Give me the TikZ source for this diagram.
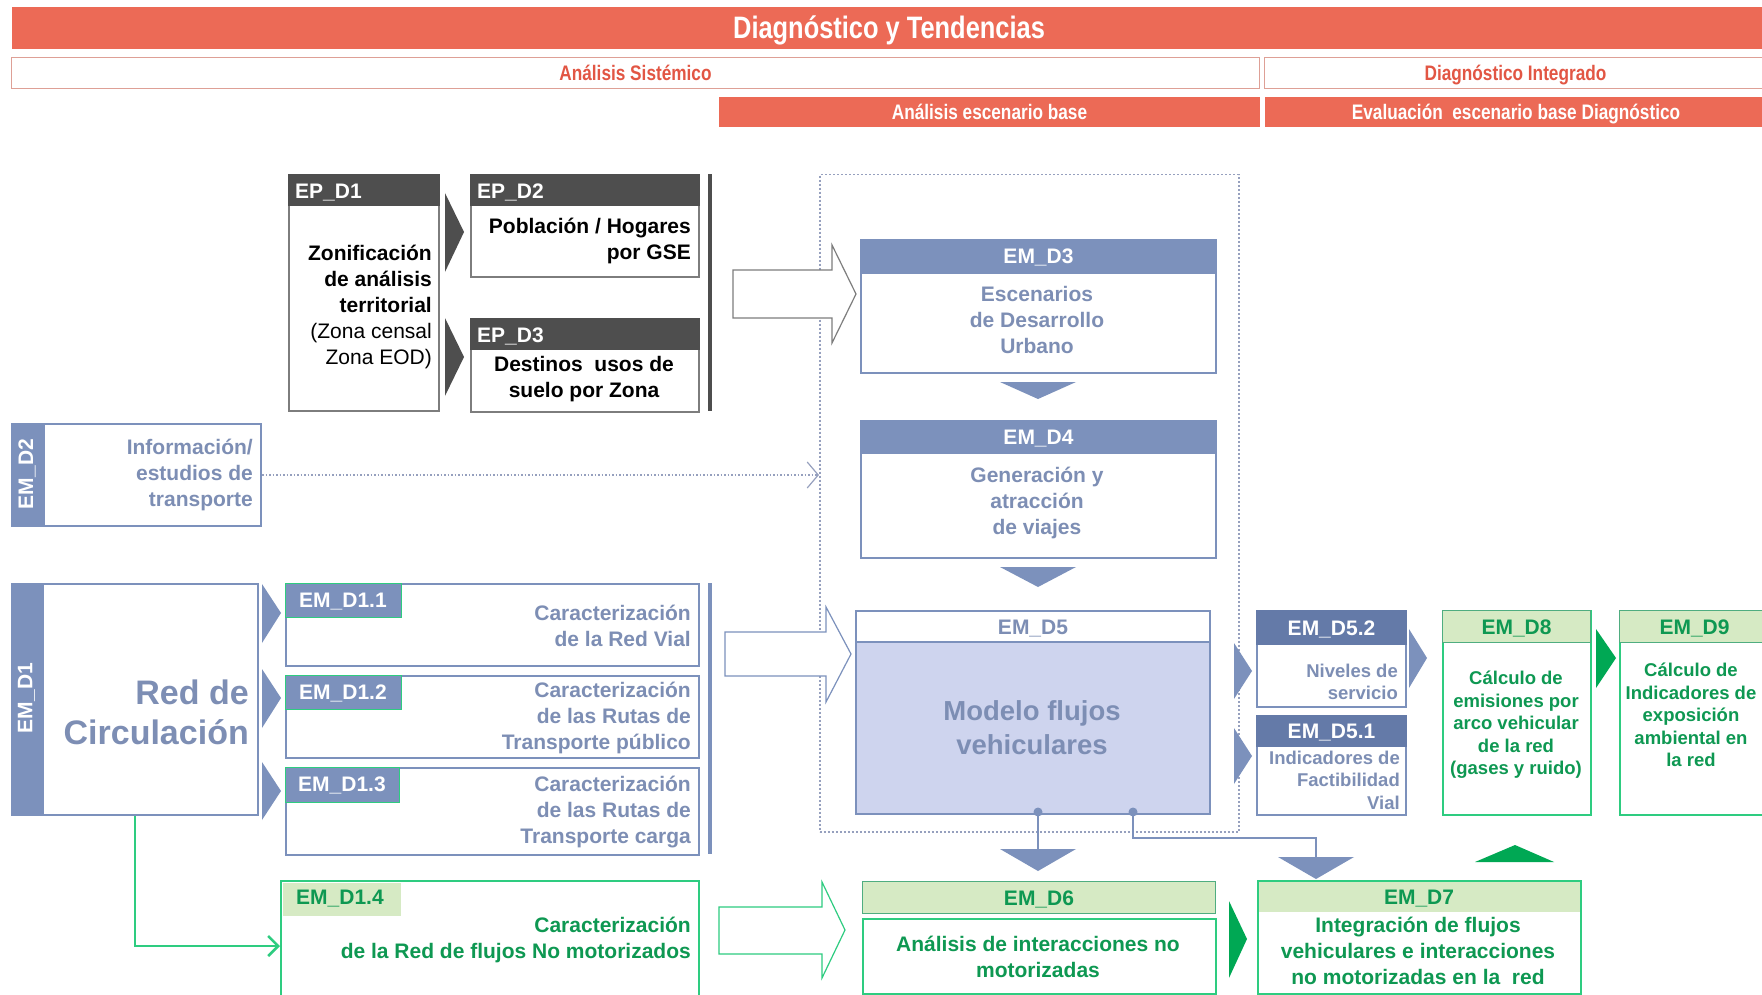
\documentclass[tikz,border=0pt]{standalone}
\usepackage{fontspec}
\setmainfont{Liberation Sans}
\newfontfamily\narrowfont[FakeStretch=0.82]{Liberation Sans}
\usetikzlibrary{arrows.meta}

\definecolor{rojoBar}{RGB}{236,106,86}
\definecolor{rojoTxt}{RGB}{226,86,68}
\definecolor{rojoLinea}{RGB}{222,160,150}
\definecolor{grisOsc}{RGB}{78,78,78}
\definecolor{grisLinea}{RGB}{125,125,125}
\definecolor{azul}{RGB}{124,145,188}
\definecolor{azulOsc}{RGB}{100,122,168}
\definecolor{azulTxt}{RGB}{125,142,180}
\definecolor{azulFondo}{RGB}{206,212,238}
\definecolor{azulPunteado}{RGB}{150,160,190}
\definecolor{verde}{RGB}{0,168,84}
\definecolor{verdeLinea}{RGB}{46,204,128}
\definecolor{verdeFondo}{RGB}{214,234,196}
\definecolor{verdeTxt}{RGB}{14,152,82}

\tikzset{
  caja/.style={draw, rectangle, inner sep=0pt, anchor=north west, line width=2pt},
  barra/.style={caja, draw=none, fill=rojoBar, text=white, text height=15pt, text depth=0pt, font={\narrowfont\bfseries\fontsize{21}{24}\selectfont}},
  subbarra/.style={caja, line width=1pt, draw=rojoLinea, fill=white, text=rojoTxt, text height=15pt, text depth=0pt, font={\narrowfont\bfseries\fontsize{21}{24}\selectfont}},
  cajaEP/.style={caja, draw=grisLinea, fill=white},
  cabEP/.style={caja, draw=grisOsc, fill=grisOsc},
  cajaEM/.style={caja, draw=azul, fill=white},
  cabEM/.style={caja, draw=azul, fill=azul, text=white, text height=15pt, text depth=0pt, font={\bfseries\fontsize{21}{26}\selectfont}},
  tabEM/.style={caja, line width=1pt, draw=verdeLinea, fill=azul},
  cajaV/.style={caja, draw=verdeLinea, fill=white},
  cabV/.style={caja, line width=1pt, draw=verdeLinea!60!gray, fill=verdeFondo, text=verdeTxt, text height=15pt, text depth=0pt, font={\bfseries\fontsize{21}{26}\selectfont}},
  etq/.style={inner sep=0pt, font={\bfseries\fontsize{21}{26}\selectfont}},
  lbl/.style={etq, text height=15pt, text depth=0pt},
  etqchica/.style={inner sep=0pt, font={\bfseries\fontsize{18.5}{22.5}\selectfont}},
}

\begin{document}
\begin{tikzpicture}[x=1pt,y=1pt,yscale=-1,xscale=1]
\useasboundingbox (0,0) rectangle (1762,995);
\fill[white] (0,0) rectangle (1762,995);

%Shape: Rectangle [titulo]
\node[barra, minimum width=1754pt, minimum height=42pt, text height=22pt, font={\narrowfont\bfseries\fontsize{31}{34}\selectfont}] (titulo) at (11,6) {Diagnóstico y Tendencias};
%Shape: Rectangle [subtitulos]
\node[subbarra, minimum width=1248pt, minimum height=31pt] (sistemico) at (11,57) {Análisis Sistémico};
\node[subbarra, minimum width=502pt, minimum height=31pt] (integrado) at (1264,57) {Diagnóstico Integrado};
\node[barra, minimum width=541pt, minimum height=30pt] (base) at (718,96) {Análisis escenario base};
\node[barra, minimum width=502pt, minimum height=30pt] (evaluacion) at (1264,96) {Evaluación\ \ escenario base Diagnóstico};

%Shape: Rectangle [zona escenario base, punteada]
\node[caja, draw=azulPunteado, dotted, line width=1.5pt, minimum width=419pt, minimum height=657pt] (escenario) at (819,174) {};

%Shape: Rectangle [EP_D1]
\node[cajaEP, minimum width=150pt, minimum height=236pt] (epd1) at (288,174) {};
\node[cabEP, minimum width=150pt, minimum height=30pt] (epd1cab) at (288,174) {};
%Shape: Rectangle [EP_D2]
\node[cajaEP, minimum width=228pt, minimum height=102pt] (epd2) at (470,174) {};
\node[cabEP, minimum width=228pt, minimum height=30pt] (epd2cab) at (470,174) {};
%Shape: Rectangle [EP_D3]
\node[cajaEP, minimum width=228pt, minimum height=93pt] (epd3) at (470,318) {};
\node[cabEP, minimum width=228pt, minimum height=30pt] (epd3cab) at (470,318) {};
%Straight Lines [barra EP]
\fill[grisOsc] (708,174) rectangle (712,411);
%Shape: Triangle
\fill[grisOsc] (445,193) -- (464,232) -- (445,272) -- cycle;
\fill[grisOsc] (445,318) -- (464,357) -- (445,396) -- cycle;

% Text Node
\node[lbl, text=white, anchor=west] (epd1lbl) at (295,191) {EP\_D1};
\node[lbl, text=white, anchor=west] (epd2lbl) at (477,191) {EP\_D2};
\node[lbl, text=white, anchor=west] (epd3lbl) at (477,335) {EP\_D3};
\node[etq, anchor=east, align=right, font={\bfseries\fontsize{21}{25.8}\selectfont}] (epd1txt) at (432,307) {Zonificación\\de análisis\\territorial\\\mdseries(Zona censal\\\mdseries Zona EOD)};
\node[etq, anchor=east, align=right] (epd2txt) at (691,241) {Población / Hogares\\por GSE};
\node[etq, align=center] (epd3txt) at (584,379) {Destinos\ \ usos de\\suelo por Zona};

%Shape: Hollow arrow 1
\draw[grisLinea, line width=1.2pt, fill=white] (733,270) -- (832,270) -- (832,245) -- (856,294) -- (832,343) -- (832,318) -- (733,318) -- cycle;

%Shape: Rectangle [EM_D3]
\node[cajaEM, minimum width=355pt, minimum height=133pt] (emd3) at (860,239) {};
\node[cabEM, minimum width=355pt, minimum height=33pt] (emd3cab) at (860,239) {EM\_D3};
\node[etq, text=azulTxt, align=center] (emd3txt) at (1037,320) {Escenarios\\de Desarrollo\\Urbano};
\fill[azul] (1000,382) -- (1076,382) -- (1038,399) -- cycle;
%Shape: Rectangle [EM_D4]
\node[cajaEM, minimum width=355pt, minimum height=137pt] (emd4) at (860,420) {};
\node[cabEM, minimum width=355pt, minimum height=32pt] (emd4cab) at (860,420) {EM\_D4};
\node[etq, text=azulTxt, align=center] (emd4txt) at (1037,503) {Generación y\\atracción\\de viajes};
\fill[azul] (1000,567) -- (1076,567) -- (1038,587) -- cycle;

%Shape: Rectangle [EM_D2]
\node[cajaEM, minimum width=249pt, minimum height=102pt] (emd2) at (11,423) {};
\node[caja, draw=azul, fill=azul, minimum width=32pt, minimum height=102pt] (emd2tira) at (11,423) {};
\node[etq, text=white, rotate=90] (emd2lbl) at (27,474) {EM\_D2};
\node[etq, text=azulTxt, anchor=east, align=right] (emd2txt) at (253,475) {Información/\\estudios de\\transporte};
%Straight Lines [punteada]
\draw[azulPunteado, dotted, line width=1.5pt, -{Straight Barb[length=11pt,width=26pt,line width=1.2pt]}] (emd2.east) -- (emd2.east -| escenario.west);

%Shape: Rectangle [EM_D1]
\node[cajaEM, minimum width=246pt, minimum height=231pt] (emd1) at (11,583) {};
\node[caja, draw=azul, fill=azul, minimum width=31pt, minimum height=231pt] (emd1tira) at (11,583) {};
\node[etq, text=white, rotate=90] (emd1lbl) at (26.5,698) {EM\_D1};
\node[etq, text=azulTxt, anchor=east, align=right, font={\bfseries\fontsize{34}{40}\selectfont}] (emd1txt) at (249,712) {Red de\\Circulación};
\fill[azul] (262,584) -- (281,613) -- (262,643) -- cycle;
\fill[azul] (262,669) -- (281,698) -- (262,728) -- cycle;
\fill[azul] (262,762) -- (281,791) -- (262,820) -- cycle;

%Shape: Rectangle [EM_D1.1 - EM_D1.3]
\node[cajaEM, minimum width=413pt, minimum height=82pt] (emd11) at (285,583) {};
\node[tabEM, minimum width=116pt, minimum height=34pt] (emd11tab) at (285,583) {};
\node[lbl, text=white] (emd11lbl) at (343,600) {EM\_D1.1};
\node[etq, text=azulTxt, anchor=east, align=right] (emd11txt) at (691,626) {Caracterización\\de la Red Vial};
\node[cajaEM, minimum width=413pt, minimum height=82pt] (emd12) at (285,675) {};
\node[tabEM, minimum width=116pt, minimum height=34pt] (emd12tab) at (285,675) {};
\node[lbl, text=white] (emd12lbl) at (343,692) {EM\_D1.2};
\node[etq, text=azulTxt, anchor=east, align=right] (emd12txt) at (691,718) {Caracterización\\de las Rutas de\\Transporte público};
\node[cajaEM, minimum width=413pt, minimum height=87pt] (emd13) at (285,767) {};
\node[tabEM, minimum width=114pt, minimum height=35pt] (emd13tab) at (285,767) {};
\node[lbl, text=white] (emd13lbl) at (342,784) {EM\_D1.3};
\node[etq, text=azulTxt, anchor=east, align=right] (emd13txt) at (691,812) {Caracterización\\de las Rutas de\\Transporte carga};
%Straight Lines [barra EM_D1]
\fill[azul] (708,583) rectangle (712,854);

%Shape: Hollow arrow 2
\draw[azul, line width=1.2pt, fill=white] (725,632) -- (826,632) -- (826,607) -- (851,654) -- (826,702) -- (826,676) -- (725,676) -- cycle;

%Shape: Rectangle [EM_D5]
\node[cajaEM, fill=azulFondo, minimum width=354pt, minimum height=203pt] (emd5) at (855,610) {};
\node[cajaEM, minimum width=354pt, minimum height=31pt, text=azulTxt, text height=15pt, text depth=0pt, font={\bfseries\fontsize{21}{26}\selectfont}] (emd5cab) at (855,610) {EM\_D5};
\node[etq, text=azulTxt, align=center, font={\bfseries\fontsize{27.5}{34}\selectfont}] (emd5txt) at (1032,728) {Modelo flujos\\vehiculares};
\coordinate (d5a) at (1038,812);
\coordinate (d5b) at (1133,812);
\coordinate (tri6) at (1038,849);
\coordinate (tri7) at (1316,857);
\draw[azul, line width=2pt] (d5a) -- (tri6);
\draw[azul, line width=2pt] (d5b) -- ++(0,26) -| (tri7);
\fill[azul] (d5a) circle (4.5pt);
\fill[azul] (d5b) circle (4.5pt);
\fill[azul] (1000,849) -- (1076,849) -- (1038,871) -- cycle;
\fill[azul] (1278,857) -- (1354,857) -- (1316,879) -- cycle;

%Shape: Triangle [hacia EM_D5.x]
\fill[azul] (1234,643) -- (1252,671) -- (1234,699) -- cycle;
\fill[azul] (1234,728) -- (1252,756) -- (1234,784) -- cycle;

%Shape: Rectangle [EM_D5.2, EM_D5.1]
\node[cajaEM, minimum width=149pt, minimum height=96pt] (emd52) at (1256,610) {};
\node[cabEM, draw=azulOsc, fill=azulOsc, minimum width=149pt, minimum height=33pt] (emd52cab) at (1256,610) {EM\_D5.2};
\node[etqchica, text=azulTxt, anchor=east, align=right] (emd52txt) at (1398,682) {Niveles de\\servicio};
\node[cajaEM, minimum width=149pt, minimum height=99pt] (emd51) at (1256,715) {};
\node[cabEM, draw=azulOsc, fill=azulOsc, minimum width=149pt, minimum height=30pt] (emd51cab) at (1256,715) {EM\_D5.1};
\node[etqchica, text=azulTxt, anchor=east, align=right] (emd51txt) at (1400,780) {Indicadores de\\Factibilidad\\Vial};
\fill[azul] (1409,629) -- (1427,658) -- (1409,688) -- cycle;

%Shape: Rectangle [EM_D8, EM_D9]
\node[cajaV, minimum width=148pt, minimum height=204pt] (emd8) at (1442,610) {};
\node[cabV, minimum width=148pt, minimum height=32pt] (emd8cab) at (1442,610) {EM\_D8};
\node[etqchica, text=verdeTxt, align=center] (emd8txt) at (1516,725) {Cálculo de\\emisiones por\\arco vehicular\\de la red\\(gases y ruido)};
\fill[verde] (1596,629) -- (1616,658) -- (1596,688) -- cycle;
\node[cajaV, minimum width=150pt, minimum height=204pt] (emd9) at (1619,610) {};
\node[cabV, minimum width=150pt, minimum height=32pt] (emd9cab) at (1619,610) {EM\_D9};
\node[etqchica, text=verdeTxt, align=center] (emd9txt) at (1691,715) {Cálculo de\\Indicadores de\\exposición\\ambiental en\\la red};
\fill[verde] (1475,862) -- (1554,862) -- (1515,845) -- cycle;

%Shape: Rectangle [EM_D1.4]
\node[cajaV, minimum width=418pt, minimum height=130pt] (emd14) at (280,880) {};
\node[caja, draw=none, fill=verdeFondo, minimum width=118pt, minimum height=33pt] (emd14tab) at (282,882) {};
\node[lbl, text=verdeTxt] (emd14lbl) at (340,897) {EM\_D1.4};
\node[etq, text=verdeTxt, anchor=east, align=right] (emd14txt) at (691,940) {Caracterización\\de la Red de flujos No motorizados};
%Straight Lines [EM_D1 -> EM_D1.4]
\draw[verdeLinea, line width=2.5pt, -{Straight Barb[length=10pt,width=20pt]}] (emd1.south) |- (emd14.west);

%Shape: Hollow arrow 3
\draw[verdeLinea, line width=1.2pt, fill=white] (719,907) -- (822,907) -- (822,882) -- (845,930) -- (822,978) -- (822,954) -- (719,954) -- cycle;

%Shape: Rectangle [EM_D6]
\node[cabV, minimum width=353pt, minimum height=32pt] (emd6cab) at (862,881) {EM\_D6};
\node[cajaV, minimum width=353pt, minimum height=75pt] (emd6) at (862,918) {};
\node[etq, text=verdeTxt, align=center] (emd6txt) at (1038,957) {Análisis de interacciones no\\motorizadas};
\fill[verde] (1229,901) -- (1247,939) -- (1229,978) -- cycle;

%Shape: Rectangle [EM_D7]
\node[cajaV, minimum width=323pt, minimum height=113pt] (emd7) at (1257,880) {};
\node[cabV, draw=none, minimum width=321pt, minimum height=30pt] (emd7cab) at (1258,881) {EM\_D7};
\node[etq, text=verdeTxt, align=center] (emd7txt) at (1418,951) {Integración de flujos\\vehiculares e interacciones\\no motorizadas en la\ \ red};

\end{tikzpicture}
\end{document}
